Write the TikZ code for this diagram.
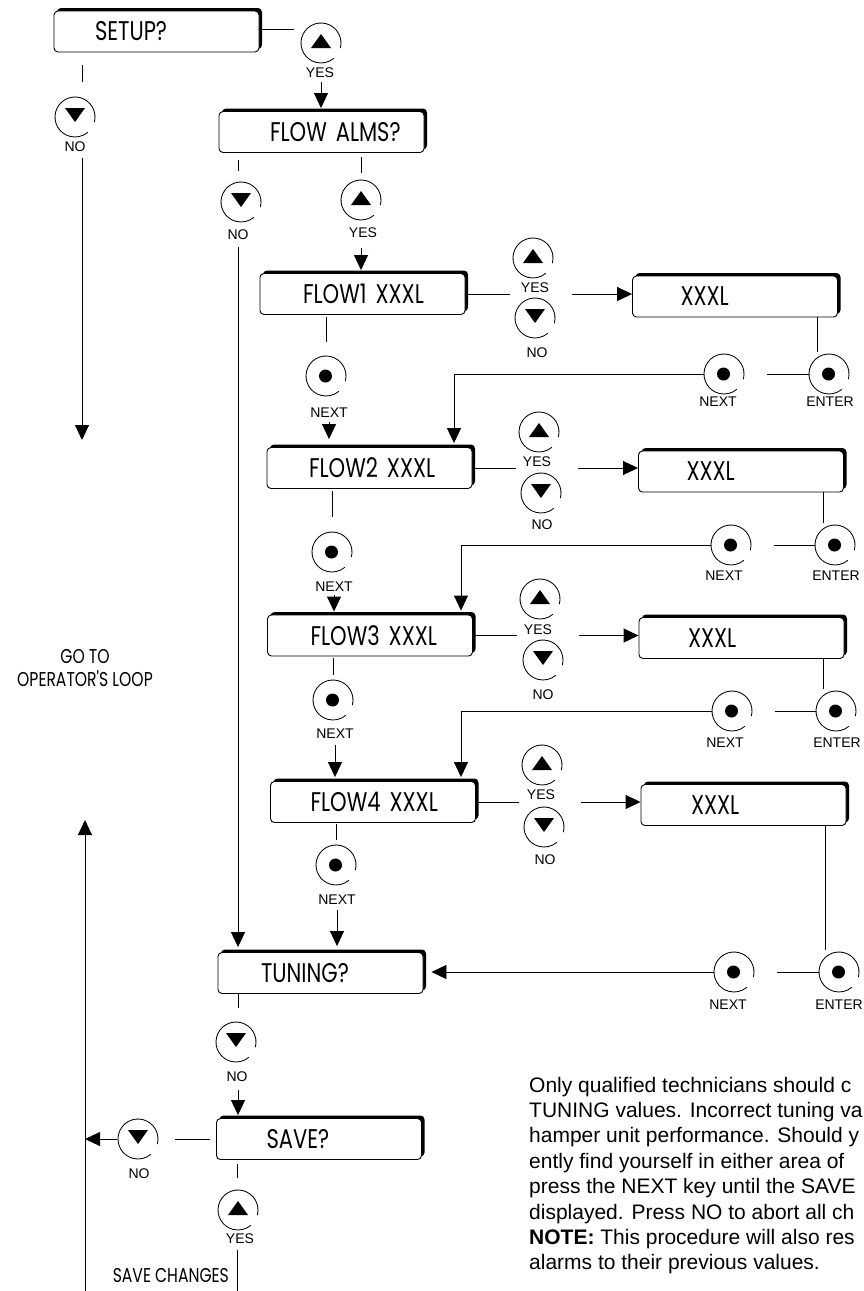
\documentclass[tikz,border=0pt]{standalone}
\usepackage{fontspec}
\setmainfont{Liberation Sans}
\newfontfamily\geofont[FakeStretch=0.78]{Poppins}
\usetikzlibrary{arrows.meta,shadows,calc}
\newcommand\boxfnt{\geofont\fontsize{27pt}{30pt}\selectfont}
\newcommand\geosmallfnt{\geofont\fontsize{20pt}{23pt}\selectfont}
\newcommand\lblfnt{\fontsize{14pt}{16pt}\selectfont}
\newcommand\parafnt{\fontsize{21pt}{25.4pt}\selectfont}
\newcommand\mykeyarc[1]{\draw[keyline] ([shift={(-15:20pt)}]#1.center) arc[start angle=-15,end angle=310,radius=20pt];}
\newcommand\mykeyup[3]{\node[key] (#1) at (#2,#3) {};\mykeyarc{#1}
  \fill ([shift={(-10pt,-5pt)}]#1.center) -- ([shift={(10pt,-5pt)}]#1.center) -- ([shift={(0pt,9pt)}]#1.center) -- cycle;}
\newcommand\mykeydn[3]{\node[key] (#1) at (#2,#3) {};\mykeyarc{#1}
  \fill ([shift={(-10pt,9pt)}]#1.center) -- ([shift={(10pt,9pt)}]#1.center) -- ([shift={(0pt,-5pt)}]#1.center) -- cycle;}
\newcommand\mykeydot[3]{\node[key] (#1) at (#2,#3) {};\mykeyarc{#1}
  \fill ([shift={(-0.5pt,0pt)}]#1.center) circle[radius=6.5pt];}
\begin{document}
\begin{tikzpicture}[x=1pt,y=-1pt,
  ln/.style={line width=0.9pt},
  arr/.style={line width=0.9pt,-{Triangle[length=15pt,width=14pt]}},
  box/.style={draw,line width=0.9pt,rounded corners=4pt,fill=white,text width=205pt,align=left,
    inner sep=0pt,minimum height=41pt,font=\boxfnt,
    drop shadow={shadow xshift=3pt,shadow yshift=3pt,opacity=1,fill=black}},
  key/.style={circle,minimum size=40pt,inner sep=0pt},
  keyline/.style={line width=0.85pt},
  lbl/.style={inner sep=0pt,font=\lblfnt},
  para/.style={inner sep=0pt,anchor=base west,font=\parafnt},
  geo/.style={inner sep=0pt,font=\geosmallfnt}]
\fill[white] (0,0) rectangle (863,1291);
\useasboundingbox (0,0) rectangle (863,1291);

% ---------- top ----------
\node[box] (setup) at (156.5,31.5) {\hspace*{41pt}SETUP?};
\mykeyup{cSY}{321}{43} \node[lbl] (lSY) at (320,73) {YES};
\mykeydn{cSN}{75}{117} \node[lbl] (lSN) at (75,147) {NO};
\node[box] (flowalms) at (321.5,132) {\hspace*{51pt}FLOW ALMS?};
\mykeydn{faN}{241}{202} \node[lbl] (lfaN) at (238,235) {NO};
\mykeyup{faY}{361}{200} \node[lbl] (lfaY) at (363,233) {YES};

% ---------- row 1 ----------
\node[box] (f1) at (362.5,294) {\hspace*{43pt}FLOW1 XXXL};
\node[box] (x1) at (735,296.5) {\hspace*{48pt}XXXL};
\mykeyup{u1}{533}{258} \node[lbl] (lu1) at (535,288) {YES};
\mykeydn{d1}{535}{318} \node[lbl] (ld1) at (537,353) {NO};
\mykeydot{n1}{326}{376} \node[lbl] (ln1) at (329,413) {NEXT};
\mykeydot{xn1}{724}{374} \node[lbl] (lxn1) at (718,402) {NEXT};
\mykeydot{e1}{829}{374} \node[lbl] (le1) at (830,402) {ENTER};

% ---------- row 2 ----------
\node[box] (f2) at (369.5,468) {\hspace*{42pt}FLOW2 XXXL};
\node[box] (x2) at (741,471.5) {\hspace*{48pt}XXXL};
\mykeyup{u2}{539}{432} \node[lbl] (lu2) at (537,462) {YES};
\mykeydn{d2}{541}{493} \node[lbl] (ld2) at (542,525) {NO};
\mykeydot{n2}{332}{552} \node[lbl] (ln2) at (334,587) {NEXT};
\mykeydot{xn2}{731}{545} \node[lbl] (lxn2) at (724,576) {NEXT};
\mykeydot{e2}{835}{545} \node[lbl] (le2) at (836,576) {ENTER};

% ---------- row 3 ----------
\node[box] (f3) at (370,635.5) {\hspace*{43pt}FLOW3 XXXL};
\node[box] (x3) at (741.5,638) {\hspace*{49pt}XXXL};
\mykeyup{u3}{540}{599} \node[lbl] (lu3) at (538,630) {YES};
\mykeydn{d3}{543}{660} \node[lbl] (ld3) at (543,695) {NO};
\mykeydot{n3}{333}{700} \node[lbl] (ln3) at (335,734) {NEXT};
\mykeydot{xn3}{732}{711} \node[lbl] (lxn3) at (725,743) {NEXT};
\mykeydot{e3}{836}{711} \node[lbl] (le3) at (837,743) {ENTER};

% ---------- row 4 ----------
\node[box] (f4) at (373,802) {\hspace*{40pt}FLOW4 XXXL};
\node[box] (x4) at (743.5,805) {\hspace*{50pt}XXXL};
\mykeyup{u4}{542}{765} \node[lbl] (lu4) at (541,795) {YES};
\mykeydn{d4}{544}{827} \node[lbl] (ld4) at (545,860) {NO};
\mykeydot{n4}{336}{865} \node[lbl] (ln4) at (337,900) {NEXT};
\mykeydot{xn4}{734}{972} \node[lbl] (lxn4) at (728,1005) {NEXT};
\mykeydot{e4}{839}{972} \node[lbl] (le4) at (839,1005) {ENTER};

% ---------- tuning / save ----------
\node[box] (tuning) at (320.5,973) {\hspace*{43pt}TUNING?};
\mykeydn{tN}{236}{1042} \node[lbl] (ltN) at (237,1077) {NO};
\node[box] (save) at (319,1139) {\hspace*{50pt}SAVE?};
\mykeydn{sN}{138}{1139} \node[lbl] (lsN) at (139,1174) {NO};
\mykeyup{sY}{238}{1210} \node[lbl] (lsY) at (240,1239) {YES};

\node[geo] (goto1) at (85,656.5) {GO TO};
\node[geo] (goto2) at (85,678.5) {OPERATOR'S LOOP};
\node[geo,anchor=east] (savech) at (229,1275) {SAVE CHANGES};

\coordinate (goop) at (82,440);
\coordinate (loopup) at (85,820);
\coordinate (bot1) at (85,1291);
\coordinate (bot2) at (237,1291);

% ---------- connectors: top ----------
\draw[ln,shorten >=7pt] (setup.east |- 0,29) -- (cSY.west |- 0,29);
\draw[arr,shorten <=19pt,shorten >=3pt] (cSY.south) -- (cSY.south |- flowalms.north);
\draw[ln,shorten <=13pt,shorten >=15pt] (82,0 |- setup.south) -- (82,0 |- cSN.north);
\draw[arr,shorten <=21pt] (82,0 |- cSN.south) -- (goop);
\draw[ln,shorten <=7pt,shorten >=11pt] (238,0 |- flowalms.south) -- (238,0 |- faN.north);
\draw[arr,shorten <=25pt,shorten >=5pt] (238,0 |- faN.south) -- (238,0 |- tuning.north);
\draw[ln,shorten <=4pt,shorten >=7pt] (faY.north |- flowalms.south) -- (faY.north);
\draw[arr,shorten <=28pt,shorten >=3pt] (faY.south) -- (faY.south |- f1.north);

% ---------- connectors: rows ----------
\foreach \k in {1,2,3,4}{
  \draw[ln,shorten >=23pt] (f\k.east) -- (f\k.east -| u\k.center);
  \draw[arr,shorten <=39pt] (f\k.east -| u\k.center) -- (x\k.west |- f\k.east);
  \coordinate (v\k) at ($(x\k.south)+(82,0)$);
  \draw[ln,shorten >=22pt] (v\k) -- (v\k |- e\k.center);
  \draw[ln,shorten <=23pt] (xn\k.east) -- (e\k.west);
}
\draw[arr,shorten >=4pt] (xn1.west) -| (454,0 |- f2.north);
\draw[arr,shorten >=4pt] (xn2.west) -| (461,0 |- f3.north);
\draw[arr,shorten >=4pt] (xn3.west) -| (461,0 |- f4.north);
\draw[arr,shorten >=8pt] (xn4.west) -- (tuning.east |- xn4.west);

\draw[ln,shorten <=2pt,shorten >=14pt] (n1.north |- f1.south) -- (n1.north);
\draw[ln,shorten <=2pt,shorten >=15pt] (n2.north |- f2.south) -- (n2.north);
\draw[ln,shorten <=2pt,shorten >=5pt] (n3.north |- f3.south) -- (n3.north);
\draw[ln,shorten <=1pt,shorten >=5pt] (n4.north |- f4.south) -- (n4.north);
\draw[arr,shorten <=4pt,shorten >=8pt] (ln1.south) -- (ln1.south |- f2.north);
\draw[arr,shorten <=3pt,shorten >=3pt] (ln2.south) -- (ln2.south |- f3.north);
\draw[arr,shorten <=6pt,shorten >=4pt] (ln3.south) -- (ln3.south |- f4.north);
\draw[arr,shorten <=5pt,shorten >=6pt] (ln4.south) -- (ln4.south |- tuning.north);

% ---------- connectors: tuning / save ----------
\draw[ln,shorten >=14pt] (238,0 |- tuning.south) -- (238,0 |- tN.north);
\draw[arr,shorten <=8pt,shorten >=3pt] (238,0 |- ltN.south) -- (238,0 |- save.north);
\draw[ln,shorten <=6pt,shorten >=17pt] (save.west) -- (sN.east);
\draw[arr,shorten <=1pt] (sN.west) -- (85,0 |- sN.west);
\draw[ln,shorten <=4pt,shorten >=12pt] (237,0 |- save.south) -- (237,0 |- sY.north);
\draw[ln,shorten <=6pt] (237,0 |- lsY.south) -- (bot2);
\draw[arr] (bot1) -- (loopup);

% ---------- note ----------
\node[para] (p1) at (529,1092) {Only qualified technicians should c};
\node[para] (p2) at (529,1117.4) {TUNING values. Incorrect tuning va};
\node[para] (p3) at (529,1142.8) {hamper unit performance. Should y};
\node[para] (p4) at (529,1168.2) {ently find yourself in either area of};
\node[para] (p5) at (529,1193.6) {press the NEXT key until the SAVE};
\node[para] (p6) at (529,1219) {displayed. Press NO to abort all ch};
\node[para] (p7) at (529,1244.4) {\textbf{NOTE:} This procedure will also res};
\node[para] (p8) at (529,1269.8) {alarms to their previous values.};
\end{tikzpicture}
\end{document}
